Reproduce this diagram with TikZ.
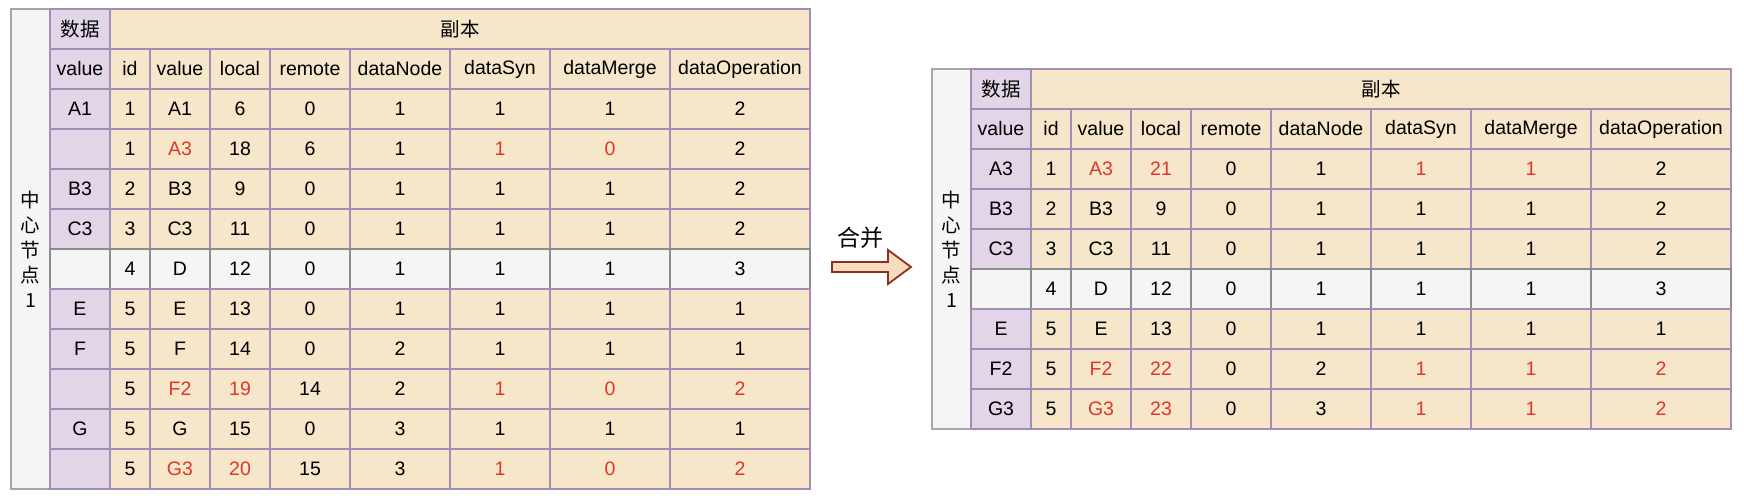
\documentclass[tikz,border=0pt]{standalone}
\usepackage{fontspec}
\setmainfont{Liberation Sans}
\newfontfamily\cjk{Noto Sans CJK SC}
\usetikzlibrary{positioning}
\definecolor{lilacfill}{HTML}{E1D5E7}
\definecolor{lilacline}{HTML}{A38DB5}
\definecolor{beigefill}{HTML}{F6E6CA}
\definecolor{grayfill}{HTML}{F5F5F5}
\definecolor{grayline}{HTML}{8C8C8C}
\definecolor{sideline}{HTML}{A6A6A6}
\definecolor{redtext}{HTML}{E0362C}
\definecolor{arrowfill}{HTML}{F8DCC0}
\definecolor{arrowline}{HTML}{8E2F22}
\newcommand{\rd}[1]{\textcolor{redtext}{#1}}
\tikzset{
    cell/.style={
        rectangle,
        draw=lilacline, % 紫色边框
        fill=beigefill, % 米色填充
        line width=0.8pt,
        minimum height=20pt,
        inner sep=0,
        outer sep=0,
        anchor=north west,
        font=\fontsize{9.75}{12}\selectfont
    },
    datacell/.style={cell, fill=lilacfill},
    graycell/.style={cell, draw=grayline, fill=grayfill},
    sidebox/.style={
        rectangle,
        draw=sideline,
        fill=grayfill,
        line width=0.8pt,
        minimum width=19.5pt,
        inner sep=0,
        outer sep=0,
        anchor=north east,
        align=center,
        font=\cjk\fontsize{9.75}{12.5}\selectfont
    },
    mergearrow/.style={draw=arrowline, fill=arrowfill, line width=0.9pt, line join=miter}
}
% 一行单元格: #1 表 #2 行号 #3 数据列样式 #4 其余样式 #5 内容
\newcommand{\cellrow}[5]{%
    \foreach \txt [count=\c] in {#5} {
        \pgfmathsetmacro\cx{{0,60,100,160,220,300,400,500,620}[\c-1]}
        \pgfmathsetmacro\cw{{60,40,60,60,80,100,100,120,140}[\c-1]}
        \ifnum\c=1 \tikzset{thiscell/.style={#3}}\else\tikzset{thiscell/.style={#4}}\fi
        \node[thiscell, minimum width=\cw*0.5pt] (#1-#2-\c) at ([shift={(\cx,#2*40)}]#1) {\txt};
    }%
}

\begin{document}
\begin{tikzpicture}[x=0.5pt, y=-0.5pt]
    \useasboundingbox (0,0) rectangle (1744,496);
    \coordinate (L) at (50,9);
    \coordinate (R) at (971,69);

    % 合并前
    \node[sidebox, minimum height=240pt] (L-side) at (L) {中\\心\\节\\点\\1};
    \node[datacell, minimum width=30pt] (L-0-1) at (L) {\cjk 数据};
    \node[cell, minimum width=350pt] (L-0-2) at ([shift={(60,0)}]L) {\cjk 副本};
    \cellrow{L}{1}{datacell}{cell}{value,id,value,local,remote,dataNode,dataSyn,dataMerge,dataOperation}
    \cellrow{L}{2}{datacell}{cell}{A1,1,A1,6,0,1,1,1,2}
    \cellrow{L}{3}{datacell}{cell}{{},1,\rd{A3},18,6,1,\rd{1},\rd{0},2}
    \cellrow{L}{4}{datacell}{cell}{B3,2,B3,9,0,1,1,1,2}
    \cellrow{L}{5}{datacell}{cell}{C3,3,C3,11,0,1,1,1,2}
    \cellrow{L}{6}{graycell}{graycell}{{},4,D,12,0,1,1,1,3}
    \cellrow{L}{7}{datacell}{cell}{E,5,E,13,0,1,1,1,1}
    \cellrow{L}{8}{datacell}{cell}{F,5,F,14,0,2,1,1,1}
    \cellrow{L}{9}{datacell}{cell}{{},5,\rd{F2},\rd{19},14,2,\rd{1},\rd{0},\rd{2}}
    \cellrow{L}{10}{datacell}{cell}{G,5,G,15,0,3,1,1,1}
    \cellrow{L}{11}{datacell}{cell}{{},5,\rd{G3},\rd{20},15,3,\rd{1},\rd{0},\rd{2}}

    % 合并箭头
    \coordinate (arrow-tail) at (832,267);
    \coordinate (arrow-tip) at (911,267);
    \draw[mergearrow] (arrow-tail) ++(0,-5) -- ++(56,0) -- ++(0,-12) -- (arrow-tip)
        -- ++(-23,17) -- ++(0,-12) -- ++(-56,0) -- cycle;
    \node[font=\cjk\fontsize{11.5}{14}\selectfont] (merge-label) at (860,238) {合并};

    % 合并后
    \node[sidebox, minimum height=180pt] (R-side) at (R) {中\\心\\节\\点\\1};
    \node[datacell, minimum width=30pt] (R-0-1) at (R) {\cjk 数据};
    \node[cell, minimum width=350pt] (R-0-2) at ([shift={(60,0)}]R) {\cjk 副本};
    \cellrow{R}{1}{datacell}{cell}{value,id,value,local,remote,dataNode,dataSyn,dataMerge,dataOperation}
    \cellrow{R}{2}{datacell}{cell}{A3,1,\rd{A3},\rd{21},0,1,\rd{1},\rd{1},2}
    \cellrow{R}{3}{datacell}{cell}{B3,2,B3,9,0,1,1,1,2}
    \cellrow{R}{4}{datacell}{cell}{C3,3,C3,11,0,1,1,1,2}
    \cellrow{R}{5}{graycell}{graycell}{{},4,D,12,0,1,1,1,3}
    \cellrow{R}{6}{datacell}{cell}{E,5,E,13,0,1,1,1,1}
    \cellrow{R}{7}{datacell}{cell}{F2,5,\rd{F2},\rd{22},0,2,\rd{1},\rd{1},\rd{2}}
    \cellrow{R}{8}{datacell}{cell}{G3,5,\rd{G3},\rd{23},0,3,\rd{1},\rd{1},\rd{2}}
\end{tikzpicture}
\end{document}
